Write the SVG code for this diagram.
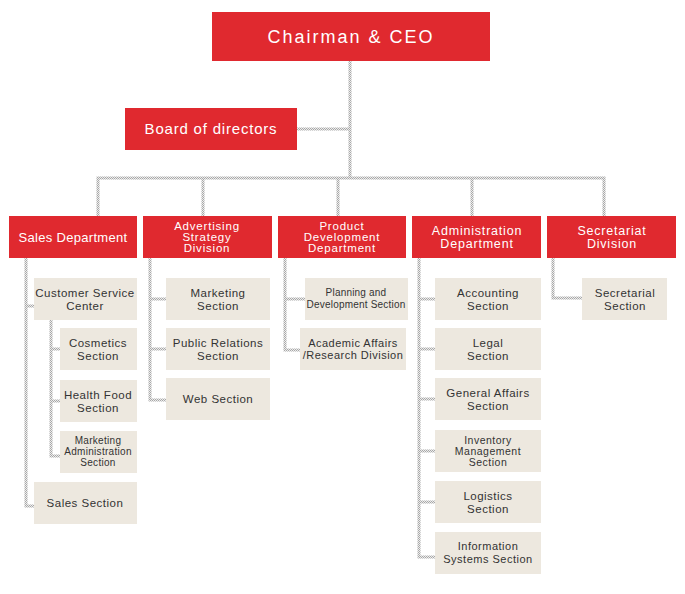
<svg xmlns="http://www.w3.org/2000/svg" width="685" height="594" viewBox="0 0 685 594">
<defs>
<pattern id="ck" width="2" height="2" patternUnits="userSpaceOnUse"><rect width="2" height="2" fill="#ececec"/><rect width="1" height="1" fill="#a8a8a8"/><rect x="1" y="1" width="1" height="1" fill="#a8a8a8"/></pattern>
</defs>
<style>
.r{fill:#e0292f}.b{fill:#ede8df}
.w{fill:#fff;font-family:"Liberation Sans",Arial,sans-serif;font-size:13px;letter-spacing:0.8px;text-anchor:middle}
.w3{font-size:11.5px}
.w2{font-size:12.5px}
.d{fill:#333;font-family:"Liberation Sans",Arial,sans-serif;font-size:11.5px;letter-spacing:0.5px;text-anchor:middle}
.c path{fill:none;stroke:url(#ck);stroke-width:3}
</style>
<rect width="685" height="594" fill="#fff"/>
<g class="c" id="connectors">
<path d="M350 61V178M297 129H350M98 216V178H604V216M203 178V216M338 178V216M472 178V216"/>
<path d="M26 258V506H34M26 306H34M51 320V456H60M51 349H60M51 401H60"/>
<path d="M150 258V400H166M150 299H166M150 349H166"/>
<path d="M285 258V350H300M285 299H305"/>
<path d="M419 258V557H435M419 299H435M419 349H435M419 399H435M419 451H435M419 502H435"/>
<path d="M553 258V298H582"/>
</g>
<g id="chairman"><rect class="r" x="212" y="12" width="278" height="49"/><text class="w" x="351" y="43" style="font-size:18px;letter-spacing:2px">Chairman &amp; CEO</text></g>
<g id="board"><rect class="r" x="125" y="108" width="172" height="42"/><text class="w" x="211" y="134" style="font-size:15px">Board of directors</text></g>
<g id="sales"><rect class="r" x="9" y="216" width="128" height="42"/><text class="w" x="73" y="242" style="letter-spacing:0.3px">Sales Department</text></g>
<g id="adv"><rect class="r" x="143" y="216" width="129" height="42"/><text class="w w3" x="207" y="230">Advertising<tspan x="207" dy="11">Strategy</tspan><tspan x="207" dy="11">Division</tspan></text></g>
<g id="prod"><rect class="r" x="278" y="216" width="128" height="42"/><text class="w w3" x="342" y="230">Product<tspan x="342" dy="11">Development</tspan><tspan x="342" dy="11">Department</tspan></text></g>
<g id="admin"><rect class="r" x="412" y="216" width="129" height="42"/><text class="w w2" x="477" y="235">Administration<tspan x="477" dy="13">Department</tspan></text></g>
<g id="secr"><rect class="r" x="547" y="216" width="129" height="42"/><text class="w w2" x="612" y="235">Secretariat<tspan x="612" dy="13">Division</tspan></text></g>
<g id="csc"><rect class="b" x="34" y="278" width="103" height="42"/><text class="d" x="85" y="297">Customer Service<tspan x="85" dy="13">Center</tspan></text></g>
<g id="cos"><rect class="b" x="60" y="328" width="77" height="42"/><text class="d" x="98" y="347">Cosmetics<tspan x="98" dy="13">Section</tspan></text></g>
<g id="hf"><rect class="b" x="60" y="380" width="77" height="42"/><text class="d" x="98" y="399">Health Food<tspan x="98" dy="13">Section</tspan></text></g>
<g id="ma"><rect class="b" x="60" y="431" width="77" height="42"/><text class="d" x="98" y="444" style="font-size:10px;letter-spacing:0.3px">Marketing<tspan x="98" dy="11">Administration</tspan><tspan x="98" dy="11">Section</tspan></text></g>
<g id="ss"><rect class="b" x="34" y="482" width="103" height="42"/><text class="d" x="85" y="507">Sales Section</text></g>
<g id="mk"><rect class="b" x="166" y="278" width="104" height="42"/><text class="d" x="218" y="297">Marketing<tspan x="218" dy="13">Section</tspan></text></g>
<g id="pr"><rect class="b" x="166" y="328" width="104" height="42"/><text class="d" x="218" y="347">Public Relations<tspan x="218" dy="13">Section</tspan></text></g>
<g id="web"><rect class="b" x="166" y="378" width="104" height="42"/><text class="d" x="218" y="403">Web Section</text></g>
<g id="plan"><rect class="b" x="305" y="278" width="103" height="42"/><text class="d" x="356" y="296" style="font-size:10px;letter-spacing:0.2px">Planning and<tspan x="356" dy="12">Development Section</tspan></text></g>
<g id="aca"><rect class="b" x="300" y="328" width="106" height="42"/><text class="d" x="353" y="347" style="font-size:11px">Academic Affairs<tspan x="353" dy="12">/Research Division</tspan></text></g>
<g id="acc"><rect class="b" x="435" y="278" width="106" height="42"/><text class="d" x="488" y="297">Accounting<tspan x="488" dy="13">Section</tspan></text></g>
<g id="leg"><rect class="b" x="435" y="328" width="106" height="42"/><text class="d" x="488" y="347">Legal<tspan x="488" dy="13">Section</tspan></text></g>
<g id="ga"><rect class="b" x="435" y="378" width="106" height="42"/><text class="d" x="488" y="397">General Affairs<tspan x="488" dy="13">Section</tspan></text></g>
<g id="inv"><rect class="b" x="435" y="430" width="106" height="42"/><text class="d" x="488" y="444" style="font-size:10.5px">Inventory<tspan x="488" dy="11">Management</tspan><tspan x="488" dy="11">Section</tspan></text></g>
<g id="log"><rect class="b" x="435" y="481" width="106" height="42"/><text class="d" x="488" y="500">Logistics<tspan x="488" dy="13">Section</tspan></text></g>
<g id="info"><rect class="b" x="435" y="532" width="106" height="42"/><text class="d" x="488" y="550" style="font-size:11px">Information<tspan x="488" dy="13">Systems Section</tspan></text></g>
<g id="sec"><rect class="b" x="582" y="278" width="85" height="42"/><text class="d" x="625" y="297">Secretarial<tspan x="625" dy="13">Section</tspan></text></g>
</svg>
